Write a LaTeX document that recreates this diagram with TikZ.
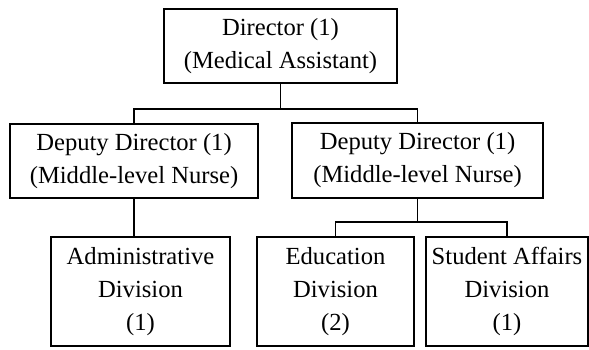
\documentclass[tikz,border=0pt]{standalone}
\usepackage{fontspec}
\setmainfont{Liberation Serif}
\usetikzlibrary{positioning}

\begin{document}
\begin{tikzpicture}[
x=1pt, y=1pt,
unit box/.style = {draw, line width=0.9pt, align=center, inner sep=0pt,
  font=\fontsize{12.3}{16.5}\selectfont},
link/.style = {line width=0.9pt},
]

\useasboundingbox (0,0) rectangle (294.5,-174.5);

\node (dir) [unit box, minimum width=116.5pt, minimum height=37pt] at (140.25,-23)
  {Director (1)\\(Medical Assistant)};

\node (depL) [unit box, minimum width=124pt, minimum height=37pt] at (67,-80.5)
  {Deputy Director (1)\\(Middle-level Nurse)};
\node (depR) [unit box, minimum width=125.5pt, minimum height=37.5pt] at (208.75,-80.25)
  {Deputy Director (1)\\(Middle-level Nurse)};

\node (adm) [unit box, minimum width=89.5pt, minimum height=54.5pt] at (70.25,-145.75)
  {Administrative\\Division\\(1)};
\node (edu) [unit box, minimum width=78.5pt, minimum height=54.5pt] at (167.75,-145.75)
  {Education\\Division\\(2)};
\node (stu) [unit box, minimum width=81pt, minimum height=54.5pt] at (253.5,-145.75)
  {Student Affairs\\Division\\(1)};

\draw[link] (dir.south) -- ++(0,-12.5) -| (depL.north);
\draw[link] (dir.south) -- ++(0,-12.5) -| (depR.north);

\draw[link] (depL.south) -- (depL.south |- adm.north);

\draw[link] (depR.south) -- ++(0,-11.5) -| (edu.north);
\draw[link] (depR.south) -- ++(0,-11.5) -| (stu.north);

\end{tikzpicture}
\end{document}
